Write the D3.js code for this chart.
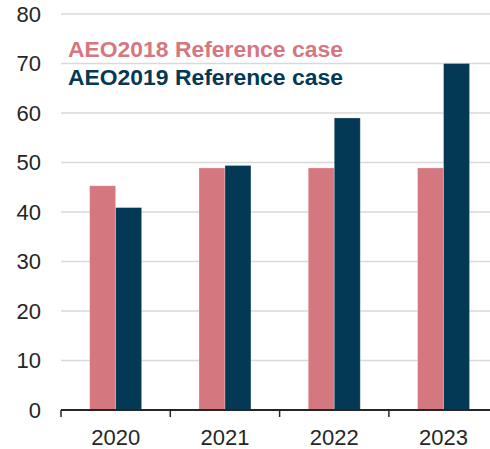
<!DOCTYPE html>
<html>
<head>
<meta charset="utf-8">
<script src="https://cdn.jsdelivr.net/npm/d3@7"></script>
<style>
  body { margin: 0; background: #fff; }
  text { font-family: "Liberation Sans", Arial, sans-serif; }
</style>
</head>
<body>
<svg class="chart" width="490" height="449"></svg>
<script>
// data
let years = ["2020", "2021", "2022", "2023"];
let aeo2018 = [45.3, 48.9, 48.9, 48.9];
let aeo2019 = [40.9, 49.4, 59.0, 70.0];
let seriesNames = ["AEO2018 Reference case", "AEO2019 Reference case"];
let yTicks = [0, 10, 20, 30, 40, 50, 60, 70, 80];

let colors = ["#d5777f", "#033954"];

let margin = {top: 14, right: 0, bottom: 39, left: 61};
let svg = d3.select(".chart");
let width = 490 - margin.left - margin.right;
let height = 449 - margin.top - margin.bottom;

let g = svg.append("g")
  .attr("transform", translate(margin.left, margin.top));

let y = d3.scaleLinear().domain([0, 80]).range([height, 0]);

// band width taken so that 4 bands fill 437px (last band runs off the edge)
let x = d3.scaleBand().domain(years).range([0, 437.2]);
let barW = 26;

// gridlines
g.selectAll(".grid")
  .data(yTicks.filter(function(d) { return d > 0; }))
  .enter().append("line")
  .attr("x1", 0)
  .attr("x2", width)
  .attr("y1", function(d) { return y(d); })
  .attr("y2", function(d) { return y(d); })
  .style("stroke", "#d9d9d9")
  .style("stroke-width", 1.5);

// y labels
g.selectAll(".ylab")
  .data(yTicks).enter()
  .append("text")
  .attr("x", -20)
  .attr("y", function(d) { return y(d); })
  .attr("dy", "0.36em")
  .attr("text-anchor", "end")
  .style("font-size", "22px")
  .style("fill", "#262626")
  .text(function(d) { return d; });

// bars
let series = [aeo2018, aeo2019];
series.forEach(function(vals, si) {
  g.selectAll(".bar" + si)
    .data(years).enter()
    .append("rect")
    .attr("x", function(d) { return x(d) + x.bandwidth() / 2 - barW + si * barW; })
    .attr("y", function(d, i) { return y(vals[i]); })
    .attr("width", barW)
    .attr("height", function(d, i) { return height - y(vals[i]); })
    .style("fill", colors[si])
    .style("stroke", "rgba(255,255,255,0.35)")
    .style("stroke-width", 0.8);
});

// x axis
let xAxis = g.append("g")
  .attr("transform", translate(0, height));
xAxis.append("line")
  .attr("x1", 0).attr("x2", width)
  .style("stroke", "#262626")
  .style("stroke-width", 2);
xAxis.selectAll(".tick")
  .data(years.concat(["end"])).enter()
  .append("line")
  .attr("x1", function(d, i) { return i * x.step(); })
  .attr("x2", function(d, i) { return i * x.step(); })
  .attr("y1", 0).attr("y2", 7)
  .style("stroke", "#262626")
  .style("stroke-width", 1.5);
xAxis.selectAll(".xlab")
  .data(years).enter()
  .append("text")
  .attr("x", function(d) { return x(d) + x.bandwidth() / 2; })
  .attr("y", 35)
  .attr("text-anchor", "middle")
  .style("font-size", "22px")
  .style("fill", "#262626")
  .text(function(d) { return d; });

// legend
seriesNames.forEach(function(name, i) {
  svg.append("text")
    .attr("x", 68)
    .attr("y", 56.5 + i * 28.5)
    .style("font-size", "22.9px")
    .style("font-weight", "bold")
    .style("fill", colors[i])
    .text(name);
});

function translate(x, y) {
  return "translate(" + x + "," + y + ")";
}
</script>
</body>
</html>
